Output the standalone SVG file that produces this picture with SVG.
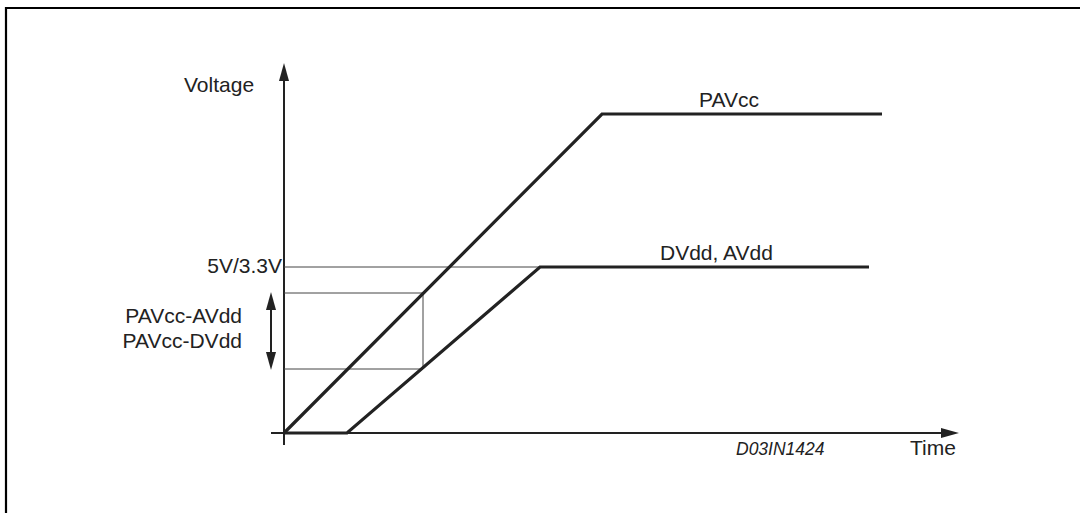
<svg xmlns="http://www.w3.org/2000/svg" width="1080" height="513" viewBox="0 0 1080 513">
<style>
text{font-family:"Liberation Sans",Arial,sans-serif;fill:#222;font-size:21px}
.thin{stroke:#444;stroke-width:1;fill:none}
.axis{stroke:#222;stroke-width:2;fill:none}
.curve{stroke:#222;stroke-width:3.2;fill:none;stroke-linejoin:miter}
.ah{fill:#222}
</style>
<rect width="1080" height="513" fill="#fff"/>
<path d="M6,513 V8 H1080" fill="none" stroke="#000" stroke-width="2.2"/>
<g id="connectors">
<path class="axis" d="M284,445 V80"/>
<polygon class="ah" points="284,63 279,81 289,81"/>
<path class="axis" d="M271,433 H942"/>
<polygon class="ah" points="959,433 941,428 941,438"/>
<path class="thin" d="M284,267 H540"/>
<path class="thin" d="M284,293 H423 V369 H284"/>
<path class="axis" d="M271,308 V354"/>
<polygon class="ah" points="271,292 266,310 276,310"/>
<polygon class="ah" points="271,370 266,352 276,352"/>
<path id="pavcc" class="curve" d="M284,433 L602,114 H882"/>
<path id="dvdd" class="curve" d="M284,433 H347 L540,267 H869"/>
</g>
<g id="labels">
<text x="184" y="92">Voltage</text>
<text x="699" y="107">PAVcc</text>
<text x="660" y="260">DVdd, AVdd</text>
<text x="282" y="273" text-anchor="end">5V/3.3V</text>
<text x="242" y="323" text-anchor="end">PAVcc-AVdd</text>
<text x="242" y="348" text-anchor="end">PAVcc-DVdd</text>
<text x="736" y="455" font-style="italic" style="font-size:17.5px">D03IN1424</text>
<text x="910" y="455">Time</text>
</g>
</svg>
